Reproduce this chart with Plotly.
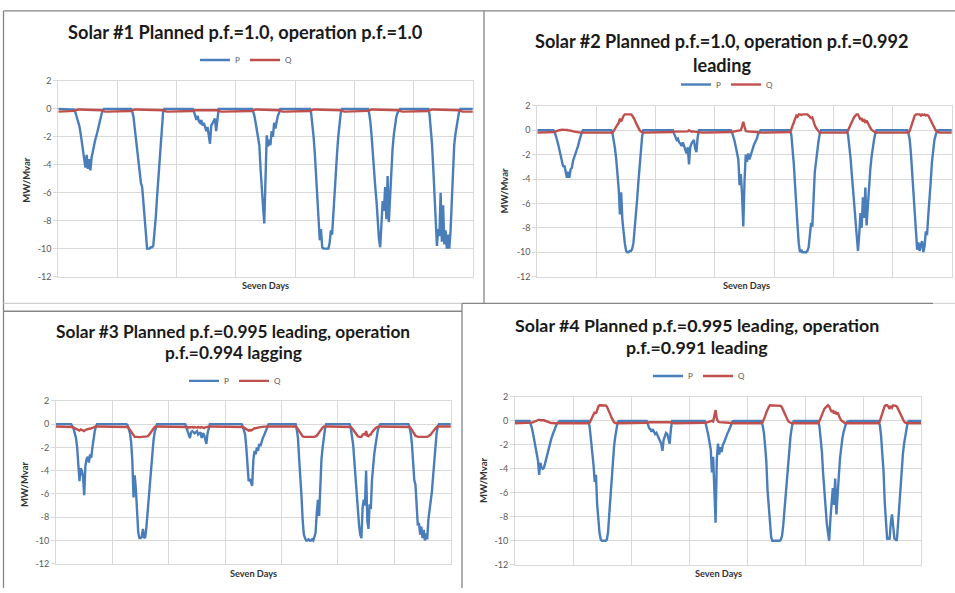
import plotly.graph_objects as go

# ---------------------------------------------------------------------------
# Data: seven days of 30-minute samples (48 per day) for four solar plants.
# P = active power (MW), Q = reactive power (Mvar); negative = generation.
# ---------------------------------------------------------------------------
SAMPLES_PER_DAY = 48
DAY_TICKS = [0, 1, 2, 3, 4, 5, 6, 7]
Y_TICKS = [-12, -10, -8, -6, -4, -2, 0, 2]
Y_TICK_TEXT = ["-12", "-10", "-8", "-6", "-4", "-2", "0", "2"]
SERIES_NAMES = ["P", "Q"]

TITLES = [
    ["Solar #1 Planned p.f.=1.0, operation p.f.=1.0"],
    ["Solar #2 Planned p.f.=1.0, operation p.f.=0.992", "leading"],
    ["Solar #3 Planned p.f.=0.995 leading, operation", "p.f.=0.994 lagging"],
    ["Solar #4 Planned p.f.=0.995 leading, operation", "p.f.=0.991 leading"],
]
X_TITLE = "Seven Days"
Y_TITLE = "MW/Mvar"

P1 = [
    [0,0,0,0,0,0,0,0,0,0,0,0,0, -0.05,-0.3,-0.6,-0.9,-1.2,-1.7,-2.3,-2.8,-3.5,-4.2,-3.3,-4.3,-3.6,-4.4,-3.5,-3.0,-2.6,-2.2,-1.9,-1.5,-1.0,-0.7,-0.4,-0.1,0, 0,0,0,0,0,0,0,0,0,0],
    [0,0,0,0,0,0,0,0,0,0,0, 0,-0.2,-0.6,-1.4,-2.2,-3.0,-3.8,-4.8,-5.3,-5.6,-6.8,-8.0,-9.2,-10,-10,-10,-9.9,-9.9,-9.8,-9.0,-7.8,-6.4,-5.2,-3.8,-2.6,-1.2,-0.2,0, 0,0,0,0,0,0,0,0,0],
    [0,0,0,0,0,0,0,0,0,0,0,0,0, 0,-0.2,-0.6,-0.8,-0.5,-0.9,-1.0,-0.8,-1.2,-1.0,-1.3,-1.6,-1.3,-1.8,-2.5,-1.2,-1.0,-0.8,-0.7,-1.6,-0.7,0, 0,0,0,0,0,0,0,0,0,0,0,0,0],
    [0,0,0,0,0,0,0,0,0,0,0,0,0, 0,-0.2,-0.5,-1.0,-1.5,-2.2,-2.6,-4.3,-6.2,-7.0,-8.2,-4.0,-1.9,-2.7,-2.2,-2.6,-1.6,-2.0,-1.0,-1.4,-0.9,-0.5,-0.3,0, 0,0,0,0,0,0,0,0,0,0,0],
    [0,0,0,0,0,0,0,0,0,0,0,0, 0,-0.3,-1.0,-2.0,-3.2,-5.0,-6.8,-8.2,-9.4,-8.6,-9.9,-10,-10,-10,-10,-10,-9.6,-8.7,-9.0,-7.4,-6.0,-4.4,-3.2,-2.0,-1.0,-0.3,0, 0,0,0,0,0,0,0,0,0],
    [0,0,0,0,0,0,0,0,0,0,0, 0,-0.3,-0.9,-1.9,-3.3,-4.6,-5.6,-6.6,-8.0,-9.3,-9.9,-7.8,-6.6,-7.3,-5.6,-7.9,-4.8,-8.1,-6.2,-4.5,-2.9,-1.9,-1.2,-0.6,-0.3,-0.1,0, 0,0,0,0,0,0,0,0,0,0],
    [0,0,0,0,0,0,0,0,0,0,0,0, 0,-0.4,-1.3,-2.5,-4.2,-6.2,-7.5,-9.8,-8.6,-9.1,-6.0,-9.5,-6.9,-9.7,-8.7,-10,-9.0,-10,-8.8,-6.3,-4.0,-2.6,-1.8,-1.2,-0.6,-0.2,0, 0,0,0,0,0,0,0,0,0,0],
]
Q1 = [
    [-0.2,-0.2,-0.2,-0.2,-0.2,-0.2,-0.2,-0.2,-0.2,-0.2,-0.2,-0.2,-0.2, -0.15,-0.1, -0.05,-0.05,-0.05,-0.05,-0.05,-0.05,-0.05,-0.05,-0.05,-0.05,-0.05,-0.05,-0.05,-0.05,-0.05,-0.05,-0.05,-0.05,-0.05,-0.05, -0.1,-0.15, -0.2,-0.2,-0.2,-0.2,-0.2,-0.2,-0.2,-0.2,-0.2,-0.2,-0.2],
    [-0.2,-0.2,-0.2,-0.2,-0.2,-0.2,-0.2,-0.2,-0.2,-0.2,-0.2, -0.15,-0.1, -0.05,-0.05,-0.05,-0.05,-0.05,-0.05,-0.05,-0.05,-0.05,-0.05,-0.05,-0.05,-0.05,-0.05,-0.05,-0.05,-0.05,-0.05,-0.05,-0.05,-0.05,-0.05,-0.05,-0.05, -0.1,-0.15, -0.2,-0.2,-0.2,-0.2,-0.2,-0.2,-0.2,-0.2,-0.2],
    [-0.2,-0.2,-0.2,-0.2,-0.2,-0.2,-0.2,-0.2,-0.2,-0.2,-0.2,-0.2,-0.2, -0.15, -0.1,-0.1,-0.12,-0.1,-0.1,-0.08,-0.1,-0.12,-0.1,-0.1,-0.08,-0.1,-0.1,-0.12,-0.1,-0.1,-0.08,-0.1,-0.1,-0.1, -0.15, -0.2,-0.2,-0.2,-0.2,-0.2,-0.2,-0.2,-0.2,-0.2,-0.2,-0.2,-0.2,-0.2],
    [-0.2,-0.2,-0.2,-0.2,-0.2,-0.2,-0.2,-0.2,-0.2,-0.2,-0.2,-0.2,-0.2, -0.15,-0.1, -0.05,-0.05,-0.05,-0.05,-0.05,-0.05,-0.05,-0.05,-0.05,-0.05,-0.05,-0.05,-0.05,-0.05,-0.05,-0.05,-0.05,-0.05,-0.05,-0.05, -0.1,-0.15, -0.2,-0.2,-0.2,-0.2,-0.2,-0.2,-0.2,-0.2,-0.2,-0.2,-0.2],
    [-0.2,-0.2,-0.2,-0.2,-0.2,-0.2,-0.2,-0.2,-0.2,-0.2,-0.2,-0.2, -0.15,-0.1, -0.05,-0.05,-0.05,-0.05,-0.05,-0.05,-0.05,-0.05,-0.05,-0.05,-0.05,-0.05,-0.05,-0.05,-0.05,-0.05,-0.05,-0.05,-0.05,-0.05,-0.05,-0.05,-0.05, -0.1,-0.15, -0.2,-0.2,-0.2,-0.2,-0.2,-0.2,-0.2,-0.2,-0.2],
    [-0.2,-0.2,-0.2,-0.2,-0.2,-0.2,-0.2,-0.2,-0.2,-0.2,-0.2, -0.15,-0.1, -0.05,-0.05,-0.05,-0.05,-0.05,-0.05,-0.05,-0.05,-0.05,-0.05,-0.05,-0.05,-0.05,-0.05,-0.05,-0.05,-0.05,-0.05,-0.05,-0.05,-0.05,-0.05,-0.05, -0.1,-0.15, -0.2,-0.2,-0.2,-0.2,-0.2,-0.2,-0.2,-0.2,-0.2,-0.2],
    [-0.2,-0.2,-0.2,-0.2,-0.2,-0.2,-0.2,-0.2,-0.2,-0.2,-0.2,-0.2, -0.15,-0.1, -0.05,-0.05,-0.05,-0.05,-0.05,-0.05,-0.05,-0.05,-0.05,-0.05,-0.05,-0.05,-0.05,-0.05,-0.05,-0.05,-0.05,-0.05,-0.05,-0.05,-0.05,-0.05,-0.05, -0.1,-0.15, -0.2,-0.2,-0.2,-0.2,-0.2,-0.2,-0.2,-0.2,-0.2,-0.2],
]

P2 = [
    [0,0,0,0,0,0,0,0,0,0,0,0,0,0, -0.1,-0.4,-0.8,-1.2,-1.7,-2.2,-2.8,-3.0,-2.9,-3.6,-3.9,-3.4,-3.9,-3.2,-3.1,-2.5,-2.2,-2.0,-1.6,-1.3,-0.9,-0.5,-0.2,0, 0,0,0,0,0,0,0,0,0,0],
    [0,0,0,0,0,0,0,0,0,0,0,0, 0,-0.3,-0.8,-1.5,-2.4,-3.5,-4.8,-6.9,-5.1,-7.4,-8.6,-9.3,-9.9,-10,-10,-9.9,-9.9,-9.7,-9.2,-8.2,-7.0,-5.6,-4.2,-2.8,-1.5,-0.5,0, 0,0,0,0,0,0,0,0,0],
    [0,0,0,0,0,0,0,0,0,0,0,0,0,0, 0,-0.3,-0.6,-0.8,-0.7,-1.0,-1.1,-1.3,-1.0,-1.4,-1.6,-1.9,-1.4,-2.8,-1.4,-1.1,-0.9,-0.8,-1.5,-1.8,-0.6,0, 0,0,0,0,0,0,0,0,0,0,0,0],
    [0,0,0,0,0,0,0,0,0,0,0,0,0, 0,-0.2,-0.5,-0.9,-1.4,-1.9,-2.4,-4.5,-3.6,-5.2,-7.9,-4.2,-2.0,-2.6,-1.9,-2.4,-2.0,-1.7,-1.4,-1.1,-0.9,-0.7,-0.3,-0.1,0, 0,0,0,0,0,0,0,0,0,0],
    [0,0,0,0,0,0,0,0,0,0,0,0,0, 0,-0.4,-1.5,-2.8,-4.5,-6.6,-7.8,-9.3,-10,-9.8,-10,-10,-10,-10,-9.9,-9.6,-8.6,-7.6,-7.9,-4.8,-3.4,-2.6,-1.6,-0.9,-0.3,0, 0,0,0,0,0,0,0,0,0],
    [0,0,0,0,0,0,0,0,0,0,0, 0,-0.4,-1.2,-2.3,-3.6,-5.0,-6.3,-7.6,-8.8,-9.9,-8.6,-6.8,-8.0,-5.5,-7.2,-4.7,-7.8,-6.0,-4.5,-3.2,-2.2,-1.4,-0.8,-0.3,0, 0,0,0,0,0,0,0,0,0,0,0,0],
    [0,0,0,0,0,0,0,0,0,0,0,0, 0,-0.3,-0.8,-2.0,-3.5,-5.4,-7.0,-8.8,-9.8,-9.2,-9.9,-9.4,-9.1,-10,-9.5,-8.3,-8.6,-7.0,-5.8,-4.2,-2.6,-1.5,-0.8,-0.4,-0.1,0, 0,0,0,0,0,0,0,0,0,0,0],
]
Q2 = [
    [-0.2,-0.2,-0.2,-0.2,-0.2,-0.2,-0.2,-0.2,-0.2,-0.2,-0.2,-0.2,-0.2,-0.2, -0.15,-0.1,-0.05,0,0,0.02,0.05,0.05,0.03,0.05,0.02,0,0,-0.03,-0.05,-0.1,-0.12,-0.15, -0.2,-0.2,-0.2,-0.2,-0.2,-0.2,-0.2,-0.2,-0.2,-0.2,-0.2,-0.2,-0.2,-0.2,-0.2,-0.2],
    [-0.2,-0.2,-0.2,-0.2,-0.2,-0.2,-0.2,-0.2,-0.2,-0.2,-0.2,-0.2,-0.2, -0.2,-0.05,0.15,0.3,0.45,0.6,0.95,0.7,1.05,1.2,1.3,1.3,1.3,1.3,1.28,1.3,1.2,1.05,0.85,0.6,0.35,0.15,0,-0.1,-0.18,-0.2, -0.2,-0.2,-0.2,-0.2,-0.2,-0.2,-0.2,-0.2,-0.2],
    [-0.2,-0.2,-0.2,-0.2,-0.2,-0.2,-0.2,-0.2,-0.2,-0.2,-0.2,-0.2,-0.2,-0.2, -0.15,-0.12,-0.12,-0.1,-0.12,-0.1,-0.12,-0.1,-0.1,-0.12,-0.1,-0.08,-0.1,0,-0.1,-0.12,-0.1,-0.12,-0.1,-0.15,-0.18, -0.2,-0.2,-0.2,-0.2,-0.2,-0.2,-0.2,-0.2,-0.2,-0.2,-0.2,-0.2,-0.2],
    [-0.2,-0.2,-0.2,-0.2,-0.2,-0.2,-0.2,-0.2,-0.2,-0.2,-0.2,-0.2,-0.2,-0.2, -0.15,-0.12,-0.1,-0.1,-0.1,-0.05,-0.05,0.0,0.3,0.7,0.3,-0.05,-0.1,-0.1,-0.1,-0.12,-0.1,-0.12,-0.12,-0.15,-0.15,-0.18,-0.2, -0.2,-0.2,-0.2,-0.2,-0.2,-0.2,-0.2,-0.2,-0.2,-0.2,-0.2],
    [-0.2,-0.2,-0.2,-0.2,-0.2,-0.2,-0.2,-0.2,-0.2,-0.2,-0.2,-0.2,-0.2, -0.15,0.1,0.4,0.75,0.95,1.2,1.1,1.3,1.3,1.25,1.3,1.3,1.3,1.28,1.3,1.2,1.1,1.0,1.05,0.6,0.4,0.2,0.05,-0.1,-0.2, -0.2,-0.2,-0.2,-0.2,-0.2,-0.2,-0.2,-0.2,-0.2,-0.2],
    [-0.2,-0.2,-0.2,-0.2,-0.2,-0.2,-0.2,-0.2,-0.2,-0.2,-0.2, -0.2,0.0,0.25,0.5,0.75,0.95,1.1,1.2,1.3,1.3,1.1,0.85,1.0,0.7,0.9,0.6,0.8,0.55,0.4,0.2,0.05,-0.05,-0.12,-0.18,-0.2, -0.2,-0.2,-0.2,-0.2,-0.2,-0.2,-0.2,-0.2,-0.2,-0.2,-0.2,-0.2],
    [-0.2,-0.2,-0.2,-0.2,-0.2,-0.2,-0.2,-0.2,-0.2,-0.2,-0.2,-0.2,-0.2, -0.2,-0.05,0.3,0.65,0.95,1.2,1.3,1.3,1.25,1.3,1.2,1.3,1.25,1.3,1.2,1.25,1.2,1.0,0.8,0.55,0.35,0.15,0.0,-0.1,-0.18,-0.2, -0.2,-0.2,-0.2,-0.2,-0.2,-0.2,-0.2,-0.2,-0.2,-0.2],
]

P3 = [
    [0,0,0,0,0,0,0,0,0,0,0,0,0, 0,-0.2,-0.4,-0.8,-1.2,-2.0,-3.5,-4.9,-3.8,-4.0,-4.5,-6.1,-3.6,-3.0,-2.8,-3.3,-2.6,-2.9,-2.0,-1.2,-0.6,-0.2,0, 0,0,0,0,0,0,0,0,0,0,0,0],
    [0,0,0,0,0,0,0,0,0,0,0,0, 0,-0.1,-0.4,-0.8,-1.6,-3.2,-6.3,-4.4,-5.6,-8.1,-9.3,-9.8,-9.8,-9.7,-9.0,-9.8,-9.7,-8.8,-7.6,-6.3,-4.8,-3.4,-2.3,-1.4,-0.7,-0.2,0, 0,0,0,0,0,0,0,0,0],
    [0,0,0,0,0,0,0,0,0,0,0,0,0,0, 0,-0.3,-0.6,-0.9,-1.2,-0.7,-0.6,-0.7,-0.8,-0.7,-0.6,-0.9,-0.8,-0.7,-1.2,-0.8,-0.9,-1.3,-1.7,-0.8,-0.3,0, 0,0,0,0,0,0,0,0,0,0,0,0],
    [0,0,0,0,0,0,0,0,0,0,0,0,0,0, 0,-0.2,-0.5,-0.9,-2.0,-3.8,-4.9,-4.7,-5.0,-5.3,-3.1,-2.3,-2.6,-2.0,-2.3,-1.7,-1.9,-1.4,-1.2,-1.0,-0.7,-0.4,-0.1,0, 0,0,0,0,0,0,0,0,0,0],
    [0,0,0,0,0,0,0,0,0,0,0,0, 0,-0.5,-1.2,-3.0,-4.4,-6.2,-8.3,-9.5,-9.8,-10,-10,-9.9,-10,-10,-9.9,-10,-9.7,-9.3,-7.6,-6.5,-7.9,-4.3,-3.0,-2.0,-1.1,-0.4,0, 0,0,0,0,0,0,0,0,0],
    [0,0,0,0,0,0,0,0,0,0, 0,-0.4,-1.0,-1.8,-3.2,-4.6,-6.3,-7.8,-8.7,-9.5,-9.8,-7.2,-6.5,-7.0,-4.0,-8.3,-9.0,-6.9,-7.3,-4.8,-3.3,-2.5,-1.8,-1.0,-0.5,-0.2,0, 0,0,0,0,0,0,0,0,0,0,0],
    [0,0,0,0,0,0,0,0,0,0,0,0, 0,-0.3,-0.8,-1.7,-3.4,-4.8,-5.2,-7.5,-8.7,-8.5,-9.5,-8.8,-9.8,-9.1,-10,-9.4,-9.9,-8.2,-7.5,-6.9,-5.8,-4.5,-3.0,-1.8,-0.8,-0.2,0, 0,0,0,0,0,0,0,0,0,0],
]
Q3 = [
    [-0.2,-0.2,-0.2,-0.2,-0.2,-0.2,-0.2,-0.2,-0.2,-0.2,-0.2,-0.2,-0.2,-0.2, -0.25,-0.3,-0.35,-0.4,-0.45,-0.5,-0.55,-0.45,-0.5,-0.55,-0.6,-0.5,-0.45,-0.45,-0.4,-0.4,-0.35,-0.3,-0.25,-0.22,-0.2, -0.2,-0.2,-0.2,-0.2,-0.2,-0.2,-0.2,-0.2,-0.2,-0.2,-0.2,-0.2,-0.2],
    [-0.2,-0.2,-0.2,-0.2,-0.2,-0.2,-0.2,-0.2,-0.2,-0.2,-0.2,-0.2, -0.2,-0.25,-0.35,-0.5,-0.7,-0.9,-1.05,-1.1,-1.1,-1.12,-1.1,-1.1,-1.12,-1.1,-1.1,-1.1,-1.1,-1.1,-1.05,-0.95,-0.8,-0.6,-0.45,-0.32,-0.25,-0.2, -0.2,-0.2,-0.2,-0.2,-0.2,-0.2,-0.2,-0.2,-0.2,-0.2],
    [-0.2,-0.2,-0.2,-0.2,-0.2,-0.2,-0.2,-0.2,-0.2,-0.2,-0.2,-0.2,-0.2,-0.2,-0.2, -0.22,-0.25,-0.3,-0.25,-0.28,-0.25,-0.3,-0.25,-0.28,-0.3,-0.25,-0.28,-0.3,-0.25,-0.3,-0.35,-0.28,-0.25,-0.22,-0.2, -0.2,-0.2,-0.2,-0.2,-0.2,-0.2,-0.2,-0.2,-0.2,-0.2,-0.2,-0.2,-0.2],
    [-0.2,-0.2,-0.2,-0.2,-0.2,-0.2,-0.2,-0.2,-0.2,-0.2,-0.2,-0.2,-0.2,-0.2,-0.2, -0.25,-0.3,-0.35,-0.4,-0.45,-0.55,-0.5,-0.55,-0.5,-0.4,-0.35,-0.35,-0.3,-0.3,-0.28,-0.25,-0.25,-0.25,-0.22,-0.22,-0.2, -0.2,-0.2,-0.2,-0.2,-0.2,-0.2,-0.2,-0.2,-0.2,-0.2,-0.2,-0.2],
    [-0.2,-0.2,-0.2,-0.2,-0.2,-0.2,-0.2,-0.2,-0.2,-0.2,-0.2,-0.2, -0.2,-0.3,-0.45,-0.6,-0.8,-0.95,-1.05,-1.1,-1.1,-1.1,-1.12,-1.1,-1.1,-1.1,-1.12,-1.1,-1.1,-1.05,-1.0,-0.85,-0.7,-0.55,-0.4,-0.3,-0.22,-0.2, -0.2,-0.2,-0.2,-0.2,-0.2,-0.2,-0.2,-0.2,-0.2,-0.2],
    [-0.2,-0.2,-0.2,-0.2,-0.2,-0.2,-0.2,-0.2,-0.2,-0.2, -0.2,-0.25,-0.35,-0.5,-0.65,-0.8,-0.95,-1.05,-1.1,-1.1,-1.1,-0.9,-0.85,-0.9,-0.6,-1.0,-1.05,-0.9,-0.9,-0.7,-0.55,-0.45,-0.35,-0.28,-0.22,-0.2, -0.2,-0.2,-0.2,-0.2,-0.2,-0.2,-0.2,-0.2,-0.2,-0.2,-0.2,-0.2],
    [-0.2,-0.2,-0.2,-0.2,-0.2,-0.2,-0.2,-0.2,-0.2,-0.2,-0.2,-0.2, -0.2,-0.25,-0.35,-0.5,-0.7,-0.9,-1.0,-1.05,-1.1,-1.1,-1.1,-1.12,-1.1,-1.1,-1.1,-1.12,-1.1,-1.05,-1.0,-0.9,-0.75,-0.6,-0.45,-0.35,-0.25,-0.2,-0.2, -0.2,-0.2,-0.2,-0.2,-0.2,-0.2,-0.2,-0.2,-0.2,-0.2],
]

P4 = [
    [0,0,0,0,0,0,0,0,0,0,0,0, 0,-0.3,-0.6,-1.1,-1.6,-2.0,-2.6,-3.3,-4.5,-3.5,-3.9,-4.0,-3.9,-3.5,-3.0,-2.5,-2.1,-1.8,-1.5,-1.2,-0.9,-0.7,-0.4,-0.2,-0.05,0, 0,0,0,0,0,0,0,0,0,0],
    [0,0,0,0,0,0,0,0,0,0,0,0,0, 0,-0.7,-1.6,-2.7,-3.7,-5.1,-4.5,-7.0,-8.4,-9.4,-9.9,-10,-10,-10,-10,-9.9,-9.3,-7.8,-6.3,-4.6,-3.2,-2.1,-1.3,-0.5,-0.1,0, 0,0,0,0,0,0,0,0,0],
    [0,0,0,0,0,0,0,0,0,0,0,0,0, 0,-0.3,-0.6,-0.7,-0.9,-0.7,-0.9,-1.1,-1.0,-1.2,-1.4,-1.6,-1.9,-2.5,-1.6,-1.3,-1.0,-1.1,-1.6,-1.9,-0.7,0, 0,0,0,0,0,0,0,0,0,0,0,0,0],
    [0,0,0,0,0,0,0,0,0,0,0,0,0, 0,-0.3,-0.7,-1.2,-1.8,-2.4,-4.3,-3.0,-5.8,-8.5,-3.2,-1.9,-2.8,-2.2,-2.6,-2.0,-1.8,-1.5,-1.2,-1.0,-0.8,-0.5,-0.2,-0.05,0, 0,0,0,0,0,0,0,0,0,0],
    [0,0,0,0,0,0,0,0,0,0,0,0, 0,-0.4,-1.0,-2.1,-3.4,-5.8,-7.0,-8.4,-9.7,-10,-10,-10,-10,-10,-10,-10,-9.9,-9.6,-8.7,-7.4,-6.2,-4.8,-3.5,-2.2,-1.3,-0.6,-0.1,0, 0,0,0,0,0,0,0,0],
    [0,0,0,0,0,0,0,0,0,0,0, 0,-0.5,-1.4,-2.6,-4.4,-6.0,-7.0,-8.5,-9.3,-10,-8.2,-6.6,-5.6,-7.0,-4.8,-7.8,-5.6,-4.6,-3.1,-2.1,-1.4,-0.9,-0.5,-0.2,-0.05,0, 0,0,0,0,0,0,0,0,0,0,0],
    [0,0,0,0,0,0,0,0,0,0,0,0,0, 0,-0.4,-1.3,-2.8,-4.2,-6.8,-8.8,-9.9,-9.7,-9.9,-8.5,-7.8,-8.8,-9.8,-9.9,-10,-8.6,-7.0,-5.4,-4.0,-2.8,-1.9,-1.2,-0.5,-0.1,0, 0,0,0,0,0,0,0,0,0,0],
]
Q4 = [
    [-0.2,-0.2,-0.2,-0.2,-0.2,-0.2,-0.2,-0.2,-0.2,-0.2,-0.2,-0.2,-0.2,-0.2, -0.15,-0.1,-0.05,0,0.05,0.05,0.1,0.05,0.08,0.05,0.05,0,-0.05,-0.1,-0.12,-0.15,-0.18,-0.2, -0.2,-0.2,-0.2,-0.2,-0.2,-0.2,-0.2,-0.2,-0.2,-0.2,-0.2,-0.2,-0.2,-0.2,-0.2,-0.2],
    [-0.2,-0.2,-0.2,-0.2,-0.2,-0.2,-0.2,-0.2,-0.2,-0.2,-0.2,-0.2,-0.2, -0.2,-0.1,0.15,0.35,0.5,0.75,0.6,1.0,1.2,1.3,1.3,1.3,1.3,1.3,1.28,1.2,1.0,0.75,0.5,0.25,0.05,-0.1,-0.18,-0.2, -0.2,-0.2,-0.2,-0.2,-0.2,-0.2,-0.2,-0.2,-0.2,-0.2,-0.2],
    [-0.2,-0.2,-0.2,-0.2,-0.2,-0.2,-0.2,-0.2,-0.2,-0.2,-0.2,-0.2,-0.2,-0.2, -0.15,-0.12,-0.12,-0.1,-0.12,-0.1,-0.1,-0.12,-0.1,-0.1,-0.08,-0.1,-0.12,-0.1,-0.1,-0.12,-0.1,-0.1,-0.12,-0.15,-0.18, -0.2,-0.2,-0.2,-0.2,-0.2,-0.2,-0.2,-0.2,-0.2,-0.2,-0.2,-0.2,-0.2],
    [-0.2,-0.2,-0.2,-0.2,-0.2,-0.2,-0.2,-0.2,-0.2,-0.2,-0.2,-0.2,-0.2,-0.2, -0.15,-0.12,-0.1,-0.1,-0.05,0.0,-0.05,0.4,0.9,0.2,-0.05,-0.1,-0.1,-0.1,-0.12,-0.1,-0.12,-0.12,-0.15,-0.15,-0.18,-0.2,-0.2, -0.2,-0.2,-0.2,-0.2,-0.2,-0.2,-0.2,-0.2,-0.2,-0.2,-0.2],
    [-0.2,-0.2,-0.2,-0.2,-0.2,-0.2,-0.2,-0.2,-0.2,-0.2,-0.2,-0.2, -0.2,-0.1,0.1,0.4,0.7,1.0,1.15,1.3,1.3,1.3,1.3,1.3,1.3,1.3,1.3,1.3,1.25,1.1,0.85,0.6,0.35,0.15,0.0,-0.1,-0.18,-0.2, -0.2,-0.2,-0.2,-0.2,-0.2,-0.2,-0.2,-0.2,-0.2,-0.2],
    [-0.2,-0.2,-0.2,-0.2,-0.2,-0.2,-0.2,-0.2,-0.2,-0.2,-0.2, -0.2,0,0.25,0.5,0.8,1.0,1.1,1.2,1.3,1.2,0.9,0.75,0.9,0.6,0.8,0.55,0.7,0.4,0.2,0.05,-0.05,-0.12,-0.18,-0.2, -0.2,-0.2,-0.2,-0.2,-0.2,-0.2,-0.2,-0.2,-0.2,-0.2,-0.2,-0.2,-0.2],
    [-0.2,-0.2,-0.2,-0.2,-0.2,-0.2,-0.2,-0.2,-0.2,-0.2,-0.2,-0.2,-0.2, -0.2,0.0,0.3,0.7,1.0,1.25,1.3,1.3,1.2,1.0,1.25,1.1,1.3,1.3,1.25,1.2,1.0,0.75,0.5,0.3,0.1,-0.05,-0.15,-0.2, -0.2,-0.2,-0.2,-0.2,-0.2,-0.2,-0.2,-0.2,-0.2,-0.2,-0.2,-0.2],
]

# Closing sample at the end of day 7 so each trace runs to the right edge
P_END = [0, 0, 0, 0]
Q_END = [-0.2, -0.2, -0.2, -0.2]

P_SERIES = [P1, P2, P3, P4]
Q_SERIES = [Q1, Q2, Q3, Q4]

# ---------------------------------------------------------------------------
# Styling / layout (pixel geometry of the 955 x 593 canvas)
# ---------------------------------------------------------------------------
W, H = 955, 593
BLUE = "#4a7ebb"
RED = "#c0504d"
GRID = "#d9d9d9"
TICK_TXT = "#595959"
BORDER = "#858585"
FONT = "Lato, 'Open Sans', sans-serif"


def fx(x):
    return x / W


def fy(y):
    return 1 - y / H


# plot-area boxes (left, right, top, bottom) and text anchors per panel
PANELS = [
    dict(box=(58.3, 472.7, 76.3, 275.7), title_x=245, title_y=[26], title_size=18.2,
         legend=(246, 55), ytitle=(27, 177), xtitle=(265, 285)),
    dict(box=(537.3, 951.7, 101.7, 275.7), title_x=722, title_y=[36, 60], title_size=18.1,
         legend=(727, 80), ytitle=(505, 188), xtitle=(746, 285)),
    dict(box=(56.0, 450.7, 402.3, 568.3), title_x=233, title_y=[331.7, 353.3], title_size=17.3,
         legend=(235, 382), ytitle=(25, 487), xtitle=(253, 578)),
    dict(box=(515.0, 921.0, 398.3, 569.3), title_x=697, title_y=[325, 347.7], title_size=17.8,
         legend=(699, 377), ytitle=(483, 483), xtitle=(718, 578)),
]


def flatten(days, end):
    out = []
    for d in days:
        out.extend(d)
    out.append(end)
    return out


fig = go.Figure()
layout = dict(
    width=W, height=H,
    margin=dict(l=0, r=0, t=0, b=0),
    paper_bgcolor="white", plot_bgcolor="white",
    font=dict(family=FONT, color=TICK_TXT),
    showlegend=True,
)
annotations = []
shapes = []

for k in range(4):
    n = k + 1
    sfx = "" if n == 1 else str(n)
    cfg = PANELS[k]
    x0, x1, yt, yb = cfg["box"]

    p = flatten(P_SERIES[k], P_END[k])
    q = flatten(Q_SERIES[k], Q_END[k])
    tp = [i / SAMPLES_PER_DAY for i in range(len(p))]
    tq = [i / SAMPLES_PER_DAY for i in range(len(q))]
    leg = "legend" + sfx

    fig.add_trace(go.Scatter(x=tp, y=p, mode="lines", name=SERIES_NAMES[0],
                             line=dict(color=BLUE, width=2.4),
                             xaxis="x" + sfx, yaxis="y" + sfx, legend=leg))
    fig.add_trace(go.Scatter(x=tq, y=q, mode="lines", name=SERIES_NAMES[1],
                             line=dict(color=RED, width=2.4),
                             xaxis="x" + sfx, yaxis="y" + sfx, legend=leg))

    layout["xaxis" + sfx] = dict(
        domain=[fx(x0), fx(x1)], anchor="y" + sfx, range=[0, 7],
        tickvals=DAY_TICKS, showticklabels=False, ticks="",
        showgrid=True, gridcolor=GRID, gridwidth=1,
        showline=True, linecolor=GRID, linewidth=1, mirror=True,
        zeroline=False, fixedrange=True,
    )
    layout["yaxis" + sfx] = dict(
        domain=[fy(yb), fy(yt)], anchor="x" + sfx, range=[-12, 2],
        tickvals=Y_TICKS, ticktext=Y_TICK_TEXT,
        ticks="outside", ticklen=4, tickcolor=GRID,
        tickfont=dict(family=FONT, size=9, color=TICK_TXT),
        showgrid=True, gridcolor=GRID, gridwidth=1,
        showline=True, linecolor=GRID, linewidth=1, mirror=True,
        zeroline=False, fixedrange=True,
    )
    lx, ly = cfg["legend"]
    layout[leg] = dict(
        orientation="h", x=fx(lx), y=fy(ly), xanchor="center", yanchor="middle",
        font=dict(family=FONT, size=8, color=TICK_TXT),
        bgcolor="rgba(0,0,0,0)", itemwidth=30, tracegroupgap=0,
    )

    for line_txt, ty in zip(TITLES[k], cfg["title_y"]):
        annotations.append(dict(
            text="<b>" + line_txt + "</b>", x=fx(cfg["title_x"]), y=fy(ty),
            xref="paper", yref="paper", xanchor="center", yanchor="middle",
            showarrow=False, font=dict(family=FONT, size=cfg["title_size"], color="#1a1a1a"),
        ))
    ax_, ay_ = cfg["ytitle"]
    annotations.append(dict(
        text="<b>" + Y_TITLE + "</b>", x=fx(ax_), y=fy(ay_), xref="paper", yref="paper",
        xanchor="center", yanchor="middle", textangle=-90, showarrow=False,
        font=dict(family=FONT, size=9.5, color="#333333"),
    ))
    bx, by = cfg["xtitle"]
    annotations.append(dict(
        text="<b>" + X_TITLE + "</b>", x=fx(bx), y=fy(by), xref="paper", yref="paper",
        xanchor="center", yanchor="middle", showarrow=False,
        font=dict(family=FONT, size=9.2, color="#333333"),
    ))

# Frame lines of the four pasted chart panels (pixel coordinates)
FRAMES = [
    (3.5, 5, 955, 5, BORDER),        # common top edge
    (3.5, 5, 3.5, 593, BORDER),      # common left edge
    (484, 5, 484, 303, BORDER),      # panel 2 left edge
    (3.5, 303, 462, 303, "#cfcfcf"),  # panel 1 lower edge
    (462, 303, 933, 303, BORDER),    # panel 2 lower / panel 4 upper edge
    (933, 303, 955, 303, "#d9d9d9"),
    (3.5, 311, 462, 311, BORDER),    # panel 3 upper edge
    (462, 303, 462, 593, BORDER),    # panel 3 right / panel 4 left edge
]
for xa, ya, xb, yb2, col in FRAMES:
    shapes.append(dict(type="line", xref="paper", yref="paper",
                       x0=fx(xa), y0=fy(ya), x1=fx(xb), y1=fy(yb2),
                       line=dict(color=col, width=1.3)))

layout["annotations"] = annotations
layout["shapes"] = shapes
fig.update_layout(**layout)

fig.write_html("out.html")
